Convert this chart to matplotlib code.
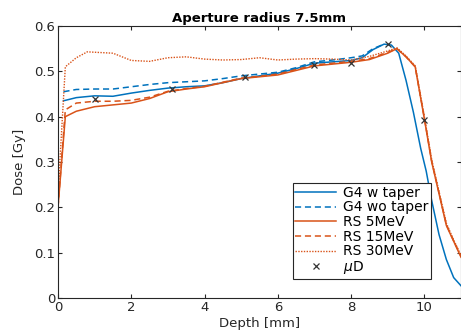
import numpy as np
import matplotlib
matplotlib.use("Agg")
import matplotlib.pyplot as plt

# Farben wie in MATLAB
blau = "#0072BD"
orange = "#D95319"

# G4 mit Taper
g4w_x = [0.15, 0.5, 1.0, 1.5, 2.0, 2.5, 3.0, 3.5, 4.0, 4.5, 5.0, 5.5, 6.0, 6.5, 7.0, 7.5, 8.0,
         8.3, 8.6, 8.9, 9.1, 9.3, 9.5, 9.7, 9.9, 10.05, 10.2, 10.4, 10.6, 10.8, 11.0]
g4w_y = [0.435, 0.442, 0.446, 0.445, 0.452, 0.458, 0.463, 0.466, 0.468, 0.475, 0.484, 0.490, 0.496, 0.506,
         0.518, 0.521, 0.524, 0.530, 0.548, 0.560, 0.558, 0.540, 0.480, 0.410, 0.330, 0.280, 0.215, 0.140,
         0.085, 0.045, 0.027]

# G4 ohne Taper
g4wo_x = [0.15, 0.5, 1.0, 1.5, 2.0, 2.5, 3.0, 3.5, 4.0, 4.5, 5.0, 5.5, 6.0, 6.5, 7.0, 7.5, 8.0, 8.3, 8.6, 8.9]
g4wo_y = [0.455, 0.460, 0.461, 0.461, 0.466, 0.471, 0.475, 0.477, 0.479, 0.484, 0.490, 0.494, 0.498, 0.508,
          0.521, 0.525, 0.530, 0.534, 0.550, 0.560]

# RS 5 MeV
rs5_x = [0.0, 0.2, 0.5, 1.0, 1.5, 2.0, 2.5, 3.0, 3.5, 4.0, 4.5, 5.0, 5.5, 6.0, 6.5, 7.0, 7.5, 8.0, 8.5, 9.0,
         9.25, 9.5, 9.75, 10.0, 10.2, 10.4, 10.6, 10.8, 11.0]
rs5_y = [0.200, 0.400, 0.412, 0.422, 0.426, 0.430, 0.440, 0.455, 0.461, 0.466, 0.475, 0.484, 0.488, 0.492,
         0.502, 0.512, 0.516, 0.520, 0.526, 0.540, 0.550, 0.532, 0.510, 0.395, 0.300, 0.230, 0.160, 0.125, 0.090]

# RS 15 MeV
rs15_x = [0.0, 0.2, 0.5, 1.0, 1.5, 2.0, 2.5, 3.0, 3.5, 4.0, 4.5, 5.0, 5.5, 6.0, 6.5, 7.0, 7.5, 8.0, 8.5, 9.0,
          9.25, 9.5, 9.75, 10.0, 10.2, 10.4, 10.6, 10.8, 11.0]
rs15_y = [0.200, 0.415, 0.430, 0.434, 0.434, 0.436, 0.443, 0.456, 0.462, 0.467, 0.476, 0.485, 0.489, 0.494,
          0.504, 0.514, 0.518, 0.522, 0.528, 0.542, 0.550, 0.532, 0.510, 0.397, 0.302, 0.232, 0.162, 0.126, 0.092]

# RS 30 MeV
rs30_x = [0.0, 0.05, 0.2, 0.5, 0.8, 1.5, 2.0, 2.5, 3.0, 3.5, 4.0, 4.5, 5.0, 5.5, 6.0, 6.5, 7.0, 7.5, 8.0, 8.5,
          9.0, 9.25, 9.5, 9.75, 10.0, 10.2, 10.4, 10.6, 10.8, 11.0]
rs30_y = [0.200, 0.300, 0.510, 0.530, 0.543, 0.540, 0.524, 0.522, 0.530, 0.532, 0.527, 0.525, 0.526, 0.530,
          0.525, 0.527, 0.528, 0.527, 0.525, 0.533, 0.545, 0.552, 0.534, 0.512, 0.400, 0.305, 0.235, 0.165,
          0.128, 0.094]

# Mikrodosimetrie
mud_x = [1.0, 3.1, 5.1, 7.0, 8.0, 9.0, 10.0]
mud_y = [0.440, 0.462, 0.488, 0.515, 0.518, 0.561, 0.393]

fig = plt.figure(figsize=(4.61, 3.36), dpi=100)
ax = fig.add_axes([0.1258, 0.1131, 0.8742, 0.8095])

ax.plot(g4w_x, g4w_y, "-", color=blau, lw=1.1, label="G4 w taper")
ax.plot(g4wo_x, g4wo_y, color=blau, lw=1.1, ls=(0, (4, 2.5)), label="G4 wo taper")
ax.plot(rs5_x, rs5_y, "-", color=orange, lw=1.1, label="RS 5MeV")
ax.plot(rs15_x, rs15_y, color=orange, lw=1.1, ls=(0, (4, 2.5)), label="RS 15MeV")
ax.plot(rs30_x, rs30_y, color=orange, lw=1.0, ls=(0, (1, 1)), label="RS 30MeV")
ax.plot(mud_x, mud_y, "x", color="#333333", ms=4, mew=0.9, label=r"$\mu$D")

ax.set_xlim(0, 11)
ax.set_ylim(0, 0.6)
ax.set_xticks([0, 2, 4, 6, 8, 10])
ax.set_yticks(np.arange(0, 0.61, 0.1))
ax.set_yticklabels(["0", "0.1", "0.2", "0.3", "0.4", "0.5", "0.6"])
ax.tick_params(direction="in", top=True, right=True, labelsize=9.5, colors="#262626",
               length=3, width=0.8, pad=2)
for s in ax.spines.values():
    s.set_color("#262626")
    s.set_linewidth(0.8)

ax.set_xlabel("Depth [mm]", fontsize=9.5, color="#262626", labelpad=2)
ax.set_ylabel("Dose [Gy]", fontsize=9.5, color="#262626", labelpad=6)
ax.set_title("Aperture radius 7.5mm", fontsize=9.5, fontweight="bold", pad=3)

leg = ax.legend(loc="lower right", bbox_to_anchor=(0.925, 0.07), fontsize=10, fancybox=False,
                edgecolor="#262626", framealpha=1, handlelength=2.9, labelspacing=0.05,
                borderpad=0.2, handletextpad=0.5, borderaxespad=0)
leg.get_frame().set_linewidth(0.8)

fig.savefig("out.png", dpi=100)
